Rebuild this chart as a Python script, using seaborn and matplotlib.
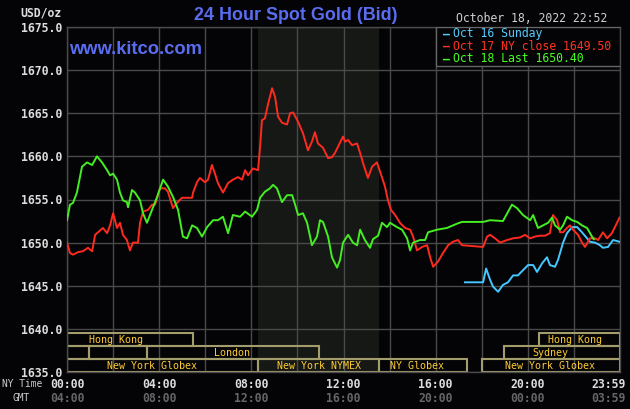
import matplotlib
matplotlib.use("Agg")
import matplotlib.pyplot as plt
import matplotlib.transforms as mtransforms
from matplotlib.patches import Rectangle
import seaborn as sns
import pandas as pd

# ---------------- data ----------------
green_t = [0.00, 0.13, 0.26, 0.43, 0.65, 0.87, 1.09, 1.30, 1.52, 1.74, 1.87, 2.00, 2.17, 2.30,
           2.43, 2.60, 2.65, 2.82, 2.95, 3.17, 3.30, 3.47, 3.69, 3.91, 4.17, 4.38, 4.60, 4.82,
           5.03, 5.21, 5.43, 5.64, 5.86, 6.08, 6.34, 6.55, 6.77, 6.99, 7.20, 7.51, 7.73, 8.03,
           8.25, 8.38, 8.59, 8.81, 8.94, 9.11, 9.33, 9.55, 9.77, 9.90, 10.03, 10.24, 10.42,
           10.63, 10.85, 10.98, 11.11, 11.33, 11.50, 11.72, 11.85, 11.98, 12.20, 12.41, 12.59,
           12.72, 12.93, 13.15, 13.28, 13.50, 13.67, 13.89, 14.02, 14.32, 14.54, 14.76, 14.89,
           15.02, 15.32, 15.54, 15.67, 16.06, 16.49, 16.93, 17.14, 18.06, 18.36, 18.92, 19.31,
           19.53, 19.79, 20.10, 20.23, 20.44, 20.66, 20.88, 21.05, 21.18, 21.40, 21.53, 21.70,
           21.92, 22.14, 22.35, 22.57, 22.83, 22.87]
green_v = [1652.6, 1654.4, 1654.6, 1655.8, 1658.8, 1659.3, 1659.0, 1660.0, 1659.3, 1658.4,
           1657.8, 1658.0, 1657.3, 1655.8, 1654.9, 1654.7, 1654.1, 1656.1, 1655.8, 1654.9,
           1653.4, 1652.3, 1653.8, 1655.3, 1657.3, 1656.5, 1655.3, 1653.8, 1650.7, 1650.5,
           1652.0, 1651.7, 1650.7, 1651.8, 1652.6, 1652.6, 1653.0, 1651.1, 1653.2, 1653.0,
           1653.6, 1653.0, 1653.8, 1655.2, 1655.9, 1656.3, 1656.7, 1656.3, 1654.7, 1655.5,
           1655.5, 1654.4, 1653.2, 1653.4, 1652.3, 1649.7, 1650.7, 1652.6, 1652.4, 1650.7,
           1648.3, 1647.1, 1648.0, 1650.0, 1650.9, 1650.0, 1649.7, 1651.5, 1650.3, 1649.4,
           1650.4, 1650.8, 1652.3, 1651.8, 1652.3, 1651.8, 1651.5, 1650.5, 1649.1, 1650.0,
           1650.3, 1650.3, 1651.2, 1651.5, 1651.7, 1652.2, 1652.4, 1652.4, 1652.6, 1652.5,
           1654.4, 1654.0, 1653.2, 1652.6, 1653.2, 1651.7, 1652.0, 1652.3, 1652.9, 1652.0,
           1651.5, 1652.0, 1653.0, 1652.6, 1652.4, 1652.0, 1651.7, 1650.5, 1650.4]

red_t = [0.00, 0.13, 0.26, 0.48, 0.69, 0.91, 1.09, 1.22, 1.35, 1.56, 1.74, 1.87, 2.00, 2.17,
         2.30, 2.43, 2.60, 2.73, 2.86, 3.08, 3.17, 3.30, 3.52, 3.69, 3.82, 4.04, 4.25, 4.38,
         4.60, 4.77, 4.99, 5.21, 5.43, 5.47, 5.64, 5.77, 5.99, 6.12, 6.29, 6.42, 6.55, 6.77,
         6.99, 7.20, 7.42, 7.60, 7.73, 7.86, 8.07, 8.29, 8.38, 8.46, 8.59, 8.72, 8.90, 9.03,
         9.16, 9.33, 9.55, 9.68, 9.81, 10.03, 10.24, 10.46, 10.63, 10.76, 10.89, 11.11, 11.33,
         11.50, 11.63, 11.76, 11.98, 12.07, 12.20, 12.37, 12.59, 12.72, 12.85, 13.06, 13.24,
         13.45, 13.59, 13.80, 13.93, 14.06, 14.24, 14.45, 14.67, 14.89, 15.02, 15.19, 15.41,
         15.63, 15.76, 15.89, 16.10, 16.32, 16.54, 16.75, 16.97, 17.14, 18.06, 18.23, 18.36,
         18.58, 18.79, 19.10, 19.36, 19.66, 19.88, 20.10, 20.31, 20.53, 20.75, 20.96, 21.09,
         21.27, 21.40, 21.53, 21.70, 21.83, 21.96, 22.18, 22.35, 22.48, 22.70, 22.92, 23.05,
         23.26, 23.44, 23.65, 23.87, 23.98]
red_v = [1650.0, 1648.8, 1648.6, 1648.9, 1649.0, 1649.4, 1649.0, 1650.9, 1651.2, 1651.7,
         1651.1, 1652.0, 1653.4, 1651.7, 1652.3, 1650.9, 1650.3, 1649.1, 1650.0, 1650.0,
         1652.3, 1653.6, 1653.8, 1654.4, 1654.4, 1656.3, 1656.3, 1655.9, 1654.0, 1654.6,
         1655.2, 1655.2, 1655.2, 1655.8, 1657.0, 1657.5, 1657.0, 1657.3, 1659.0, 1658.0,
         1656.9, 1655.8, 1656.9, 1657.3, 1657.6, 1657.3, 1658.4, 1657.8, 1658.6, 1658.4,
         1661.1, 1664.2, 1664.4, 1666.0, 1667.9, 1666.9, 1664.6, 1663.9, 1663.7, 1665.0,
         1665.1, 1664.0, 1662.7, 1660.7, 1661.7, 1662.8, 1661.5, 1661.0, 1659.8, 1659.9,
         1660.4, 1661.1, 1662.3, 1661.7, 1661.9, 1661.3, 1661.5, 1660.4, 1659.2, 1657.5,
         1658.8, 1659.3, 1658.2, 1656.5, 1654.9, 1653.8, 1653.2, 1652.3, 1651.7, 1651.5,
         1650.7, 1649.1, 1649.5, 1649.7, 1648.3, 1647.2, 1647.8, 1648.8, 1649.7, 1650.1,
         1650.3, 1649.7, 1649.5, 1650.7, 1650.9, 1650.5, 1650.0, 1650.3, 1650.5, 1650.6,
         1650.9, 1650.5, 1650.7, 1650.8, 1650.8, 1651.1, 1653.2, 1652.6, 1651.2, 1651.2,
         1651.7, 1652.0, 1651.5, 1650.9, 1650.0, 1649.5, 1650.5, 1650.5, 1650.3, 1651.2,
         1650.5, 1651.1, 1652.3, 1652.9]

blue_t = [17.27, 18.06, 18.19, 18.36, 18.49, 18.71, 18.92, 19.14, 19.36, 19.57, 19.79, 20.01,
          20.23, 20.40, 20.62, 20.83, 20.96, 21.18, 21.31, 21.53, 21.70, 21.92, 22.14, 22.35,
          22.57, 22.70, 22.92, 23.13, 23.26, 23.48, 23.70, 23.98]
blue_v = [1645.4, 1645.4, 1647.0, 1645.7, 1644.9, 1644.3, 1645.1, 1645.4, 1646.2, 1646.2,
          1646.8, 1647.4, 1647.4, 1646.6, 1647.6, 1648.3, 1647.4, 1647.2, 1648.0, 1650.0,
          1651.1, 1651.8, 1651.8, 1651.2, 1650.5, 1650.1, 1650.0, 1649.7, 1649.4, 1649.5,
          1650.3, 1650.1]

y_ticks = [1635, 1640, 1645, 1650, 1655, 1660, 1665, 1670, 1675]
ny_labels = ["00:00", "04:00", "08:00", "12:00", "16:00", "20:00", "23:59"]
gmt_labels = ["04:00", "08:00", "12:00", "16:00", "20:00", "00:00", "03:59"]
label_hours = [0, 4, 8, 12, 16, 20, 23.98]

legend_texts = ["Oct 16 Sunday", "Oct 17 NY close 1649.50", "Oct 18 Last 1650.40"]

session_names = ["Hong Kong", "", "", "London", "New York Globex", "New York NYMEX",
                 "NY Globex", "Hong Kong", "Sydney", "New York Globex"]
session_start = [0, 0, 0.95, 3.47, 0, 8.29, 13.54, 20.49, 18.97, 18.01]
session_end = [5.47, 0.95, 3.47, 10.94, 8.29, 13.54, 17.36, 24, 24, 24]
session_row = [0, 1, 1, 1, 2, 2, 2, 0, 1, 2]
session_label_x = [2.13, None, None, 7.16, 3.67, 10.94, 15.21, 22.05, 20.96, 20.96]

nymex_span = (8.29, 13.54)

# ---------------- style ----------------
BG = "#040406"
GRID = "#4a4a4a"
RED = "#ff2a1f"
GREEN = "#44ee22"
BLUE = "#44c8ff"
BOX = "#a39d6c"
SESS_TXT = "#ffcc33"
MONO = "DejaVu Sans Mono"

W, H = 630, 409
fig = plt.figure(figsize=(W / 100, H / 100), dpi=100, facecolor=BG)
ax = fig.add_axes([67 / W, (H - 372) / H, 553 / W, 345 / H])
ax.set_facecolor(BG)

ax.axvspan(*nymex_span, color="#151815", zorder=0.1, lw=0)

df_r = pd.DataFrame({"t": red_t, "v": red_v})
df_g = pd.DataFrame({"t": green_t, "v": green_v})
df_b = pd.DataFrame({"t": blue_t, "v": blue_v})
sns.lineplot(data=df_b, x="t", y="v", ax=ax, color=BLUE, lw=1.4, estimator=None, sort=False, zorder=3)
sns.lineplot(data=df_r, x="t", y="v", ax=ax, color=RED, lw=1.4, estimator=None, sort=False, zorder=4)
sns.lineplot(data=df_g, x="t", y="v", ax=ax, color=GREEN, lw=1.4, estimator=None, sort=False, zorder=5)

ax.set_xlim(0, 24)
ax.set_ylim(1635, 1675)
ax.set_xticks(range(0, 25, 2))
ax.set_xticklabels([])
ax.set_yticks(y_ticks)
ax.set_yticklabels([f"{v:.1f}" for v in y_ticks], family=MONO, weight="bold",
                   fontsize=8.3, color="#dddddd")
ax.tick_params(axis="both", length=0, pad=3.6)
ax.set_xlabel("")
ax.set_ylabel("")
ax.grid(True, color=GRID, lw=1.0, zorder=0.5)
ax.set_axisbelow(True)
for s in ax.spines.values():
    s.set_color(GRID)
    s.set_linewidth(1.0)

# session boxes
row_bottom = [1638.0, 1636.5, 1635.0]
row_h = 1.5
for name, a, b, r, lx in zip(session_names, session_start, session_end, session_row, session_label_x):
    ax.add_patch(Rectangle((a, row_bottom[r]), b - a, row_h, fill=False, edgecolor=BOX,
                           lw=1.5, zorder=2))
    if name:
        ax.text(lx, row_bottom[r] + row_h / 2, name, ha="center", va="center",
                family=MONO, fontsize=7.2, color=SESS_TXT, zorder=6)

# legend box
ax.add_patch(Rectangle((16.0, 1670.48), 8.0, 4.52, facecolor=BG, edgecolor="#666666",
                       lw=1.0, zorder=7))
leg_colors = ["#55ccff", "#ff3322", "#44ff22"]
leg_y = [34, 46, 59]
for txt, c, yy in zip(legend_texts, leg_colors, leg_y):
    fig.text(443 / W, 1 - yy / H, "\u2013", color=c, family=MONO, fontsize=8.3,
             weight="bold", ha="left", va="center", zorder=8)
    fig.text(453 / W, 1 - yy / H, txt, color=c, family=MONO, fontsize=8.3,
             ha="left", va="center", zorder=8)

# x labels (two rows)
NY_Y, GMT_Y = 384, 398
trans = mtransforms.blended_transform_factory(ax.transData, fig.transFigure)
for h, ny, gm in zip(label_hours, ny_labels, gmt_labels):
    if h > 23:
        fig.text(626 / W, 1 - NY_Y / H, ny, ha="right", va="center", family=MONO,
                 weight="bold", fontsize=8.3, color="#dddddd")
        fig.text(626 / W, 1 - GMT_Y / H, gm, ha="right", va="center", family=MONO,
                 weight="bold", fontsize=8.3, color="#666666")
    else:
        ax.text(h, 1 - NY_Y / H, ny, transform=trans, ha="center", va="center", family=MONO,
                weight="bold", fontsize=8.3, color="#dddddd", clip_on=False)
        ax.text(h, 1 - GMT_Y / H, gm, transform=trans, ha="center", va="center", family=MONO,
                weight="bold", fontsize=8.3, color="#666666", clip_on=False)

fig.text(2 / W, 1 - NY_Y / H, "NY Time", ha="left", va="center", family=MONO,
         fontsize=6.9, color="#cccccc")
fig.text(12 / W, 1 - GMT_Y / H, "GMT", ha="left", va="center", family=MONO,
         fontsize=6.9, color="#cccccc")

# header texts
fig.text(62 / W, 1 - 13 / H, "USD/oz", ha="right", va="center", family=MONO,
         weight="bold", fontsize=8.3, color="#dddddd")
fig.text(295.5 / W, 1 - 16 / H, "24 Hour Spot Gold (Bid)", ha="center", va="center",
         family="Liberation Sans", weight="bold", fontsize=12.9, color="#5a6cf0")
fig.text(69 / W, 1 - 49 / H, "www.kitco.com", ha="left", va="center",
         family="Liberation Sans", weight="bold", fontsize=13.2, color="#5a6cf0", zorder=9)
fig.text(456 / W, 1 - 19 / H, "October 18, 2022 22:52", ha="left", va="center",
         family=MONO, fontsize=8.3, color="#d0d0d0")

fig.savefig("out.png", dpi=100, facecolor=BG)
